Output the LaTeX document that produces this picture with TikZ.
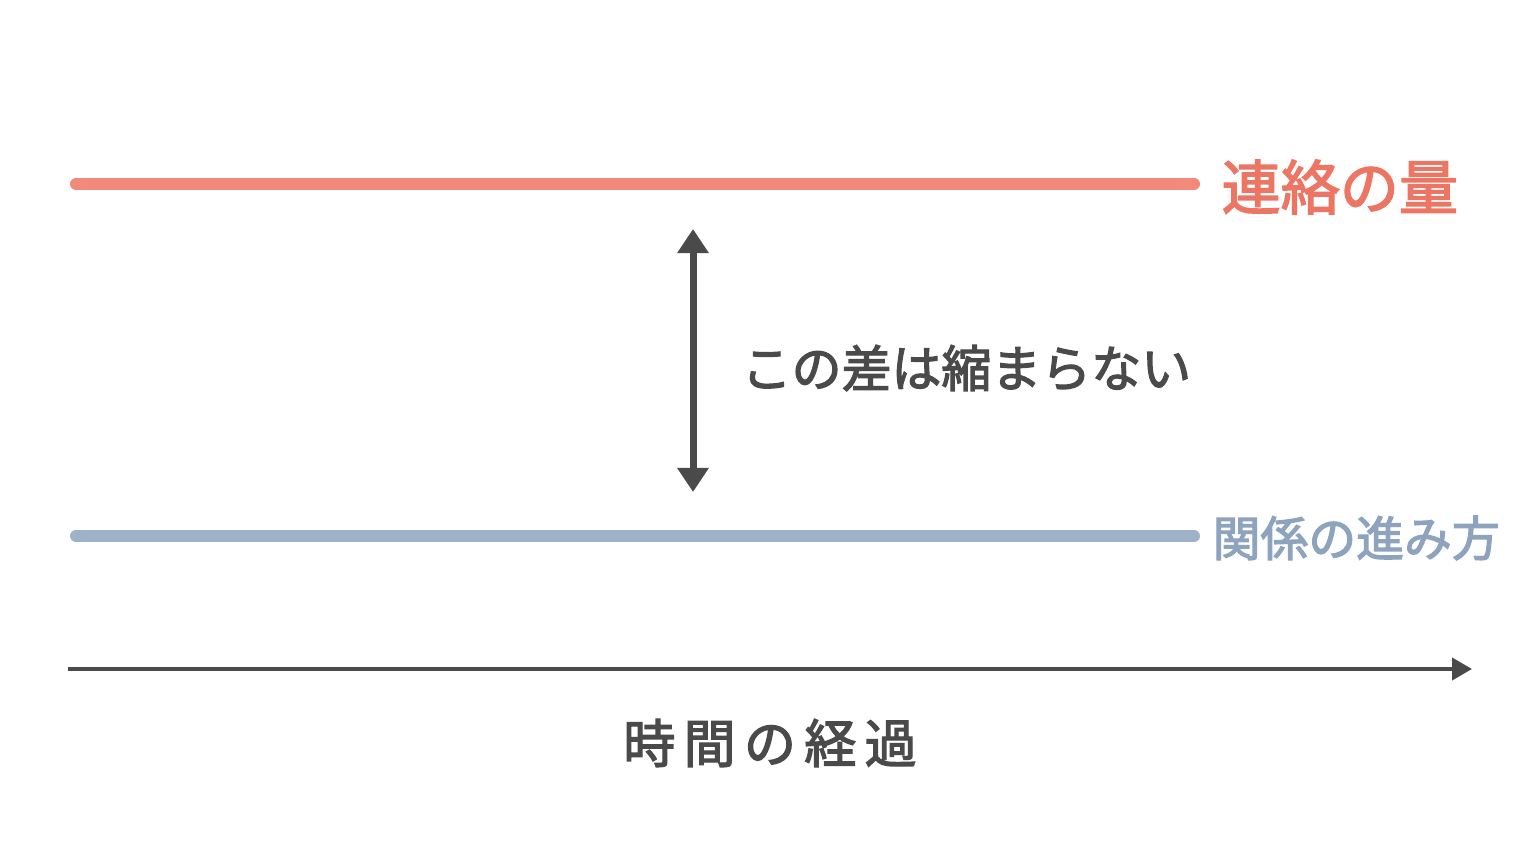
\documentclass[tikz,border=0pt]{standalone}
\usepackage{fontspec}
\setmainfont{Noto Sans CJK JP}[FakeBold=2.5]
\newfontfamily\jpwide{Noto Sans CJK JP}[LetterSpace=16, FakeBold=2.5]
\usetikzlibrary{arrows.meta}
\definecolor{redline}{HTML}{F3897A}
\definecolor{redtext}{HTML}{EC7563}
\definecolor{blueline}{HTML}{9EB2C8}
\definecolor{bluetext}{HTML}{8DA3BE}
\definecolor{darkgray}{HTML}{4A4A4A}
\tikzstyle{level} = [line width=0.12cm, line cap=round]
\tikzstyle{label} = [anchor=west, inner sep=0pt]
\tikzstyle{gap} = [draw=darkgray, line width=0.07cm,
  {Triangle[width=0.3cm, length=0.24cm]}-{Triangle[width=0.3cm, length=0.24cm]}]
\tikzstyle{axis} = [draw=darkgray, line width=0.04cm,
  -{Triangle[width=0.22cm, length=0.2cm]}]

\begin{document}
\begin{tikzpicture}[x=0.01cm, y=-0.01cm]
  \useasboundingbox[fill=white] (0,0) rectangle (1536,864);

  % the two levels
  \coordinate (contactA) at (76,184);
  \coordinate (contactB) at (1194,184);
  \coordinate (relationA) at (76,536);
  \coordinate (relationB) at (1194,536);
  \draw [level, redline] (contactA) -- (contactB);
  \draw [level, blueline] (relationA) -- (relationB);
  \node [label, text=redtext, font=\fontsize{16.8pt}{18pt}\selectfont] (contact) at (1221,187) {連絡の量};
  \node [label, text=bluetext, font=\fontsize{13.6pt}{16pt}\selectfont] (relation) at (1212,538) {関係の進み方};

  % the gap between them
  \coordinate (gapTop) at (693,229);
  \coordinate (gapBottom) at (693,492);
  \path [gap] (gapTop) -- (gapBottom);
  \node [label, text=darkgray, font=\fontsize{14.2pt}{16pt}\selectfont] (gaptext) at (741,368) {この差は縮まらない};

  % time axis
  \coordinate (timeA) at (68,669);
  \coordinate (timeB) at (1472,669);
  \path [axis] (timeA) -- (timeB);
  \node [text=darkgray, inner sep=0pt, font=\jpwide\fontsize{14.8pt}{16pt}\selectfont] (time) at (770,743) {時間の経過};

\end{tikzpicture}
\end{document}
